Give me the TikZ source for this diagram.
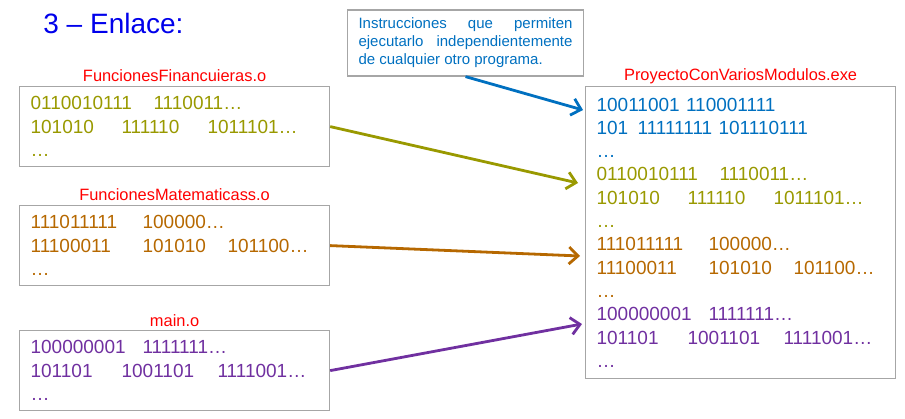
\documentclass[tikz,border=0pt]{standalone}
\usepackage{fontspec}
\setmainfont{Liberation Sans}
\usetikzlibrary{positioning,arrows.meta}
\definecolor{azul}{RGB}{0,112,192}
\definecolor{oliva}{RGB}{153,153,0}
\definecolor{marron}{RGB}{182,104,0}
\definecolor{morado}{RGB}{112,48,160}
\definecolor{titulo}{RGB}{0,0,235}
\definecolor{borde}{RGB}{166,166,166}
\tikzset{>={Straight Barb[length=4.5pt,width=8.5pt]}}
\newcommand\col[2]{\makebox[#1pt][l]{#2}}

\begin{document}
\begin{tikzpicture}[x=0.5pt,y=-0.5pt]
    \tikzset{
      caja/.style={draw=borde, line width=0.6pt, anchor=north west, align=left, text width=144pt,
        inner xsep=5.5pt, inner ysep=0pt, minimum width=155pt, minimum height=40pt,
        font=\fontsize{9.5}{11.65}\selectfont},
      etiqueta/.style={red, anchor=base, inner sep=0pt, font=\fontsize{8.2}{10}\selectfont},
      flecha/.style={->, line width=1.4pt},
    }
    \useasboundingbox (0,0) rectangle (905,418);

    % Titulo.
    \node[titulo, anchor=base west, inner sep=0pt, font=\fontsize{14}{17}\selectfont] (tit) at (43,33) {3 – Enlace:};

    % Modulos objeto.
    \node[caja, text=oliva] (fin) at (19,86) {\col{61.5}{0110010111}1110011…\\
      \col{45.5}{101010}\col{43}{111110}1011101…\\ …};
    \node[caja, text=marron] (mat) at (19,205) {\col{56}{111011111}100000…\\
      \col{56}{11100011}\col{42.5}{101010}101100…\\ …};
    \node[caja, text=morado] (main) at (19,330) {\col{56}{100000001}1111111…\\
      \col{45.5}{101101}\col{48}{1001101}1111001…\\ …};

    \node[etiqueta] (lfin)  at ([yshift=2.5pt]fin.north)  {FuncionesFinancuieras.o};
    \node[etiqueta] (lmat)  at ([yshift=2.5pt]mat.north)  {FuncionesMatematicass.o};
    \node[etiqueta] (lmain) at ([yshift=2pt]main.north)   {main.o};

    % Ejecutable.
    \node[caja, minimum height=146pt] (exe) at (585,86) {\color{azul}10011001 110001111\\
      \col{20.5}{101}11111111 101110111\\
      …\\
      \color{oliva}\col{61.5}{0110010111}1110011…\\
      \col{45.5}{101010}\col{43}{111110}1011101…\\
      …\\
      \color{marron}\col{56}{111011111}100000…\\
      \col{56}{11100011}\col{42.5}{101010}101100…\\
      …\\
      \color{morado}\col{56}{100000001}1111111…\\
      \col{45.5}{101101}\col{48}{1001101}1111001…\\
      …};
    \node[etiqueta] (lexe) at ([yshift=3pt]exe.north) {ProyectoConVariosModulos.exe};

    % Nota.
    \node[draw=borde, line width=0.6pt, text=azul, align=justify, text width=107pt, inner xsep=5.5pt,
      inner ysep=0pt, minimum height=33pt, font=\fontsize{7.5}{9}\selectfont] (nota) at (465.5,43)
      {Instrucciones que permiten\linebreak ejecutarlo independientemente\linebreak de cualquier otro programa.};

    % Flechas.
    \draw[flecha, azul]   (nota.south) -- ([xshift=-1pt,yshift=-12pt]exe.north west);
    \draw[flecha, oliva]  (fin.east)   -- ([xshift=-3.5pt,yshift=-48.5pt]exe.north west);
    \draw[flecha, marron] (mat.east)   -- ([xshift=-2.5pt,yshift=-85pt]exe.north west);
    \draw[flecha, morado] (main.east)  -- ([xshift=-1.5pt,yshift=-119pt]exe.north west);
\end{tikzpicture}
\end{document}
